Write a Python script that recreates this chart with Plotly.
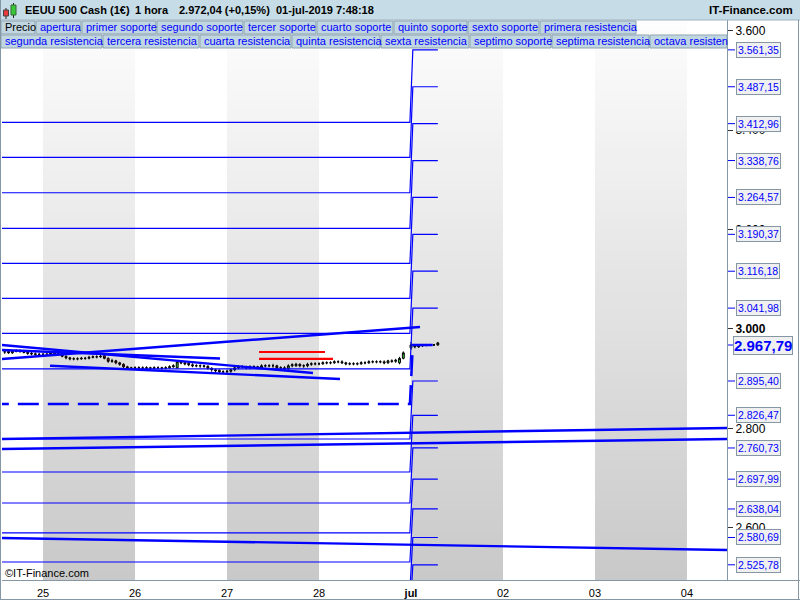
import plotly.graph_objects as go

# ---------------- data ----------------
session_days = ["24-jun", "25-jun", "26-jun", "27-jun", "28-jun", "01-jul"]
session_index = [-1, 0, 1, 2, 3, 4]  # slot on the weekend-free day axis
session_hours = [list(range(14, 24)), list(range(24)), list(range(24)),
                 list(range(24)), list(range(23)), list(range(8))]

opens = [
    2954, 2955, 2952, 2955, 2956, 2955, 2953, 2951, 2950, 2949,
    2949, 2949, 2949, 2952, 2951, 2951, 2945, 2942, 2940, 2940, 2940, 2941, 2941, 2943, 2944, 2944, 2946, 2941, 2935, 2936, 2932, 2929, 2924, 2922,
    2921, 2922, 2922, 2921, 2922, 2921, 2922, 2922, 2921, 2922, 2924, 2922, 2934, 2932, 2931, 2928, 2926, 2926, 2926, 2925, 2921, 2918, 2917, 2914,
    2914, 2915, 2918, 2922, 2924, 2924, 2922, 2924, 2924, 2922, 2926, 2926, 2926, 2926, 2922, 2922, 2920, 2926, 2926, 2929, 2926, 2926, 2929, 2930,
    2930, 2930, 2932, 2932, 2932, 2934, 2934, 2932, 2930, 2930, 2930, 2930, 2932, 2932, 2934, 2934, 2934, 2934, 2932, 2936, 2935, 2932, 2941,
    2962, 2967, 2964, 2966, 2968, 2968, 2968, 2968,
]
highs = [
    2958, 2958, 2957, 2959, 2959, 2958, 2956, 2954, 2953, 2952,
    2952, 2952, 2954, 2954, 2954, 2953, 2947, 2944, 2943, 2943, 2944, 2944, 2946, 2947, 2947, 2948, 2948, 2943, 2940, 2938, 2934, 2931, 2926, 2924,
    2925, 2925, 2925, 2925, 2924, 2925, 2925, 2924, 2925, 2927, 2929, 2937, 2936, 2934, 2933, 2931, 2929, 2929, 2928, 2927, 2923, 2920, 2919, 2917,
    2918, 2920, 2924, 2927, 2927, 2926, 2927, 2927, 2926, 2929, 2929, 2929, 2930, 2928, 2925, 2925, 2929, 2931, 2932, 2931, 2929, 2932, 2933, 2933,
    2933, 2935, 2935, 2935, 2937, 2937, 2937, 2934, 2933, 2933, 2933, 2935, 2935, 2937, 2937, 2937, 2937, 2937, 2938, 2939, 2940, 2944, 2955,
    2974, 2969, 2968, 2970, 2970, 2970, 2970, 2974,
]
lows = [
    2950, 2950, 2950, 2953, 2952, 2951, 2948, 2947, 2946, 2946,
    2946, 2946, 2947, 2948, 2949, 2943, 2939, 2937, 2937, 2937, 2938, 2938, 2939, 2941, 2941, 2942, 2939, 2932, 2932, 2929, 2926, 2921, 2919, 2918,
    2918, 2919, 2918, 2918, 2918, 2919, 2919, 2918, 2919, 2920, 2922, 2920, 2929, 2927, 2925, 2923, 2923, 2922, 2922, 2918, 2914, 2912, 2911, 2911,
    2911, 2912, 2915, 2919, 2921, 2919, 2919, 2921, 2919, 2919, 2923, 2923, 2922, 2919, 2918, 2916, 2917, 2923, 2924, 2923, 2922, 2923, 2926, 2927,
    2927, 2928, 2929, 2929, 2930, 2931, 2930, 2927, 2927, 2927, 2927, 2928, 2929, 2930, 2931, 2931, 2931, 2929, 2930, 2932, 2932, 2929, 2939,
    2958, 2961, 2962, 2964, 2965, 2966, 2966, 2966,
]
closes = [
    2954, 2952, 2955, 2956, 2955, 2953, 2951, 2950, 2949, 2949,
    2949, 2949, 2952, 2951, 2952, 2945, 2942, 2940, 2940, 2940, 2941, 2941, 2943, 2944, 2944, 2945, 2941, 2935, 2936, 2932, 2929, 2924, 2922, 2921,
    2922, 2922, 2921, 2922, 2921, 2922, 2922, 2921, 2922, 2924, 2926, 2934, 2932, 2930, 2928, 2926, 2926, 2926, 2925, 2921, 2918, 2916, 2914, 2914,
    2915, 2918, 2922, 2924, 2924, 2922, 2924, 2924, 2922, 2926, 2926, 2926, 2926, 2922, 2922, 2920, 2926, 2928, 2929, 2926, 2926, 2929, 2930, 2930,
    2930, 2932, 2932, 2932, 2934, 2934, 2932, 2930, 2930, 2930, 2930, 2932, 2932, 2934, 2934, 2934, 2934, 2932, 2936, 2935, 2937, 2941, 2952,
    2968, 2964, 2966, 2968, 2968, 2968, 2968, 2972,
]

day_ticks = [0, 1, 2, 3, 4, 5, 6, 7]
day_labels = ["25", "26", "27", "28", "<b>jul</b>", "02", "03", "04"]
shaded_days = [0, 2, 4, 6]

level_names = ["apertura",
               "primer soporte", "segundo soporte", "tercer soporte", "cuarto soporte",
               "quinto soporte", "sexto soporte", "septimo soporte",
               "primera resistencia", "segunda resistencia", "tercera resistencia", "cuarta resistencia",
               "quinta resistencia", "sexta resistencia", "septima resistencia", "octava resistencia"]
level_june = [2849.2,
              2778.8, 2712.4, 2650.1, 2589.8, 2531.4, 2475.0, 2421.0,
              2919.6, 2991.0, 3061.5, 3132.0, 3202.5, 3274.0, 3345.0, 3415.5]
level_july = [2967.79,
              2895.40, 2826.47, 2760.73, 2697.99, 2638.04, 2580.69, 2525.78,
              3041.98, 3116.18, 3190.37, 3264.57, 3338.76, 3412.96, 3487.15, 3561.35]
month_switch = 4.0  # 01-jul slot

price_ticks = [2600, 2800, 3000, 3200, 3400, 3600]
price_tick_labels = ["2.600", "2.800", "<b>3.000</b>", "3.200", "3.400", "3.600"]

# hand-drawn lines: (start slot, start price, end slot, end price)
trend_blue = [
    (-0.45, 2939.7, 4.098, 3004.0),
    (-0.45, 2957.8, 1.924, 2940.7),
    (-0.45, 2967.8, 2.935, 2911.5),
    (0.076, 2926.2, 3.228, 2899.5),
    (-0.45, 2778.8, 7.44, 2800.9),
    (-0.45, 2758.7, 7.44, 2778.8),
    (-0.45, 2579.7, 7.44, 2555.6),
]
trend_red = [
    (2.348, 2953.7, 3.065, 2953.7),
    (2.348, 2939.7, 3.152, 2939.7),
]

legend_row1 = ["Precio", "apertura", "primer soporte", "segundo soporte", "tercer soporte",
               "cuarto soporte", "quinto soporte", "sexto soporte", "primera resistencia"]
legend_row2 = ["segunda resistencia", "tercera resistencia", "cuarta resistencia", "quinta resistencia",
               "sexta resistencia", "septimo soporte", "septima resistencia", "octava resisten"]

# ---------------- layout helpers ----------------
W, H = 800, 600
ML, MR, MT, MB = 2, 73, 20, 20
PW, PH = W - ML - MR, H - MT - MB
Y0, Y1 = 2495.2, 3621.4
X0, X1 = -0.446, 7.435


def px(x):
    return (x - ML) / PW


def py(y):
    return 1 - (y - MT) / PH


def fmt(v):
    s = f"{v:,.2f}"
    return s.replace(",", "X").replace(".", ",").replace("X", ".")


FONT = "Liberation Sans, Arial, sans-serif"
BLUE = "#0000ff"
FRAME = "#8596a5"

fig = go.Figure()
shapes = []
annotations = []

# shaded day bands: vertical gradient built from thin strips, drawn below the traces
N_STRIPS = 56
for d in shaded_days:
    for i in range(N_STRIPS):
        ya = Y0 + (Y1 - Y0) * i / N_STRIPS
        yb = Y0 + (Y1 - Y0) * (i + 1) / N_STRIPS
        g = round(201 + (253 - 201) * (i + 0.5) / N_STRIPS)
        col = f"rgb({g},{g},{g})"
        shapes.append(dict(type="rect", xref="x", yref="y", x0=d, x1=d + 1, y0=ya, y1=yb,
                           fillcolor=col, line=dict(width=0), layer="below"))

# candle times
xs = []
for idx, hrs in zip(session_index, session_hours):
    for h in hrs:
        xs.append(idx + h / 24)
last_x = xs[-1]

# candles
fig.add_trace(go.Candlestick(
    x=xs, open=opens, high=highs, low=lows, close=closes,
    increasing=dict(line=dict(color="black", width=1), fillcolor="#3ed43e"),
    decreasing=dict(line=dict(color="black", width=1), fillcolor="#ff3030"),
    whiskerwidth=0, showlegend=False, name="Precio"))

# level step lines
for name, a, b in zip(level_names, level_june, level_july):
    is_open = name == "apertura"
    fig.add_trace(go.Scatter(
        x=[-0.6, month_switch - 0.012, month_switch + 0.02, last_x],
        y=[a, a, b, b], mode="lines", name=name,
        line=dict(color=BLUE, width=2.5 if is_open else 1.2,
                  dash="21px,9px" if is_open else "solid"),
        hoverinfo="skip", showlegend=False))

for (xa, ya, xb, yb) in trend_blue:
    fig.add_trace(go.Scatter(x=[xa, xb], y=[ya, yb], mode="lines",
                             line=dict(color=BLUE, width=2.4), hoverinfo="skip", showlegend=False))
for (xa, ya, xb, yb) in trend_red:
    fig.add_trace(go.Scatter(x=[xa, xb], y=[ya, yb], mode="lines",
                             line=dict(color="#ff0000", width=2.2), hoverinfo="skip", showlegend=False))


def rect(x0, y0, x1, y1, fill, line=None, lw=1, layer="above"):
    shapes.append(dict(type="rect", xref="paper", yref="paper",
                       x0=px(x0), x1=px(x1), y0=py(y1), y1=py(y0),
                       fillcolor=fill, line=dict(color=line or fill, width=lw if line else 0),
                       layer=layer))


def hline(x0, x1, y, color, lw=1):
    shapes.append(dict(type="line", xref="paper", yref="paper",
                       x0=px(x0), x1=px(x1), y0=py(y), y1=py(y),
                       line=dict(color=color, width=lw), layer="above"))


def vline(x, y0, y1, color, lw=1):
    shapes.append(dict(type="line", xref="paper", yref="paper",
                       x0=px(x), x1=px(x), y0=py(y0), y1=py(y1),
                       line=dict(color=color, width=lw), layer="above"))


def text(x, y, s, size=11, color="black", anchor="left"):
    annotations.append(dict(xref="paper", yref="paper", x=px(x), y=py(y), text=s,
                            showarrow=False, xanchor=anchor, yanchor="middle",
                            font=dict(family=FONT, size=size, color=color)))


# title bar
rect(0, 0, 800, 20, "#c6dce6")
hline(0, 800, 20, "#9fb4c2")
# icon
vline(6, 8, 19, "#222222")
rect(3.5, 10, 8.5, 16, "#e83a3a", "#444444")
vline(13.5, 3, 18, "#222222")
rect(11, 5, 16, 15, "#38c838", "#336633")
text(23, 10, "<b>EEUU 500 Cash (1€)</b>", 11)
text(133, 10, "<b>1 hora</b>", 11)
text(177, 10, "<b>2.972,04 (+0,15%)</b>", 11)
text(274, 10, "<b>01-jul-2019 7:48:18</b>", 11)
text(795, 10, "<b>IT-Finance.com</b>", 11.5, anchor="right")

# legend buttons
row1_x = [(1, 35), (36, 81), (82, 156), (157, 243), (244, 316), (317, 393), (394, 467), (468, 539), (540, 636)]
row2_x = [(1, 102), (103, 199), (200, 291), (292, 380), (381, 469), (470, 551), (552, 649), (650, 727)]
for (xa, xb), name in zip(row1_x, legend_row1):
    rect(xa, 21, xb, 34, "#c0d6e1", "#8ea3b1")
    text(xa + 2, 27.5, name, 11, "black" if name == "Precio" else BLUE)
for (xa, xb), name in zip(row2_x, legend_row2):
    rect(xa, 35, xb, 48, "#c0d6e1", "#8ea3b1")
    text(xa + 2, 41.5, name, 11, BLUE)

# copyright
text(3, 573, "©IT-Finance.com", 11)

# frame
vline(0.5, 0, 600, FRAME)
vline(798.5, 20, 600, FRAME)
hline(0, 800, 599.5, FRAME)
hline(727, 800, 580.5, FRAME)

# level labels on the right axis
for name, v in zip(level_names, level_july):
    shapes.append(dict(type="line", xref="paper", yref="y", x0=px(728), x1=px(735),
                       y0=v, y1=v, line=dict(color=BLUE, width=1), layer="above"))
    if name == "apertura":
        annotations.append(dict(xref="paper", yref="y", x=px(733), y=v, text="<b>" + fmt(v) + "</b>",
                                showarrow=False, xanchor="left", yanchor="middle",
                                font=dict(family=FONT, size=15, color=BLUE),
                                bgcolor="#f0f0f0", bordercolor=FRAME, borderwidth=1, borderpad=0))
    else:
        annotations.append(dict(xref="paper", yref="y", x=px(736), y=v, text=fmt(v),
                                showarrow=False, xanchor="left", yanchor="middle",
                                font=dict(family=FONT, size=10.5, color=BLUE),
                                bgcolor="#f0f0f0", bordercolor=FRAME, borderwidth=1, borderpad=1))

fig.update_layout(
    width=W, height=H, margin=dict(l=ML, r=MR, t=MT, b=MB, pad=0),
    paper_bgcolor="white", plot_bgcolor="white",
    separators=",.", showlegend=False,
    font=dict(family=FONT, size=12, color="black"),
    shapes=shapes, annotations=annotations,
    xaxis=dict(range=[X0, X1], tickvals=day_ticks, ticktext=day_labels,
               showgrid=False, zeroline=False, showline=True, linecolor=FRAME,
               ticks="outside", ticklen=3, tickcolor="white",
               tickfont=dict(size=11, family=FONT), rangeslider=dict(visible=False),
               fixedrange=True),
    yaxis=dict(range=[Y0, Y1], side="right", tickvals=price_ticks, ticktext=price_tick_labels,
               showgrid=False, zeroline=False, showline=True, linecolor=FRAME,
               ticks="outside", ticklen=5, tickcolor="#333333",
               tickfont=dict(size=12, family=FONT), fixedrange=True),
)

fig.write_html("out.html", config={"displayModeBar": False},
               post_script="document.body.style.margin='0';document.body.style.overflow='hidden';")
